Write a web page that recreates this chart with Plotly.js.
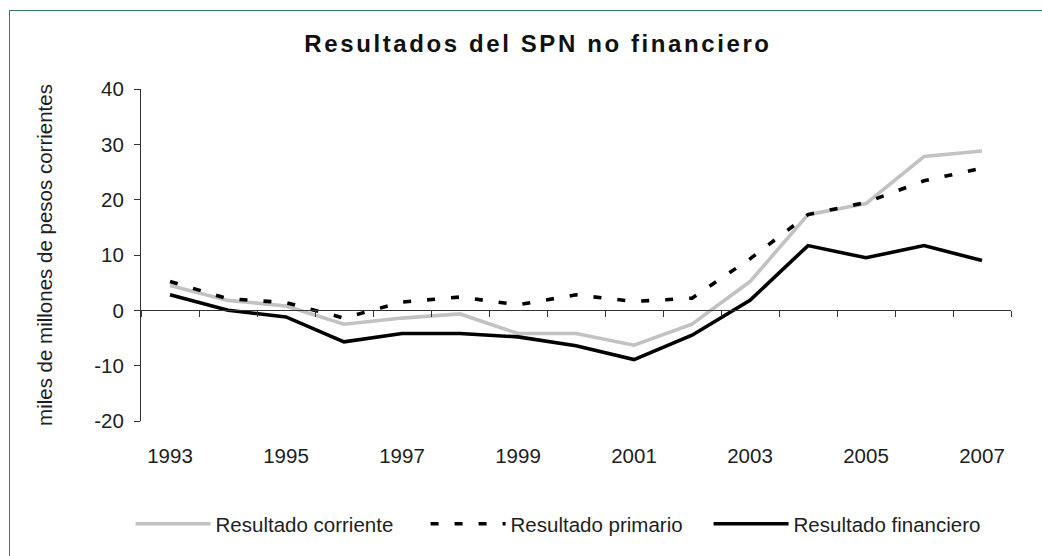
<!DOCTYPE html>
<html>
<head>
<meta charset="utf-8">
<script src="https://cdn.plot.ly/plotly-3.0.1.min.js"></script>
<style>
  html, body { margin: 0; padding: 0; background: #fff; overflow: hidden; }
  #chart { position: absolute; left: 0; top: 0; width: 1042px; height: 556px; }
  #frame { position: absolute; left: 9px; top: 10px; width: 1200px; height: 700px;
           border-left: 1px solid #2f7d63; border-top: 1px solid #2f7d63; pointer-events: none; }
  .gtitle { letter-spacing: 2.6px; }
</style>
</head>
<body>
<div id="chart"></div>
<div id="frame"></div>
<script>
// ---- data ----
const years = [1993, 1994, 1995, 1996, 1997, 1998, 1999, 2000, 2001, 2002, 2003, 2004, 2005, 2006, 2007];
const resultadoCorriente = [4.5, 1.8, 0.8, -2.5, -1.4, -0.65, -4.2, -4.2, -6.3, -2.5, 5.2, 17.3, 19.3, 27.8, 28.8];
const resultadoPrimario = [5.2, 2.1, 1.4, -1.4, 1.5, 2.4, 1.0, 2.8, 1.6, 2.2, 9.3, 17.3, 19.5, 23.4, 25.7];
const resultadoFinanciero = [2.8, 0.0, -1.2, -5.7, -4.2, -4.2, -4.8, -6.4, -8.9, -4.5, 1.8, 11.7, 9.5, 11.7, 9.0];
const seriesNames = ['Resultado corriente', 'Resultado primario', 'Resultado financiero'];
const xTickYears = [1993, 1995, 1997, 1999, 2001, 2003, 2005, 2007];
const yTicks = [-20, -10, 0, 10, 20, 30, 40];
const yTickLabels = ['-20', '-10', '0', '10', '20', '30', '40'];
const chartTitle = 'Resultados del SPN no financiero';
const yTitle = 'miles de millones de pesos corrientes';

// category boundaries for tick marks
const boundaries = years.map(y => y - 0.5).concat([years[years.length - 1] + 0.5]);

const FONT = 'Liberation Sans, Arial, Helvetica, sans-serif';
const TXT = '#1e1e1e';

const traces = [
  { x: years, y: resultadoCorriente, name: seriesNames[0], type: 'scatter', mode: 'lines',
    line: { color: '#c2c2c2', width: 3.6 }, legendwidth: 205 },
  { x: years, y: resultadoPrimario, name: seriesNames[1], type: 'scatter', mode: 'lines',
    line: { color: '#000000', width: 3.6, dash: '8px,16px' }, legendwidth: 193 },
  { x: years, y: resultadoFinanciero, name: seriesNames[2], type: 'scatter', mode: 'lines',
    line: { color: '#000000', width: 3.6 } },
  { x: [], y: [], xaxis: 'x2', showlegend: false, hoverinfo: 'skip', type: 'scatter', mode: 'lines' }
];

const layout = {
  width: 1042, height: 556,
  margin: { l: 141, r: 31, t: 89, b: 127 },
  paper_bgcolor: 'rgba(0,0,0,0)', plot_bgcolor: 'rgba(0,0,0,0)',
  font: { family: FONT, size: 20.5, color: TXT },
  title: { text: '<b>' + chartTitle + '</b>', font: { family: FONT, size: 24, color: '#111' },
           x: 0.5163, xref: 'container', xanchor: 'center', y: 1 - 44 / 556, yref: 'container', yanchor: 'middle' },
  showlegend: true,
  legend: { orientation: 'h', x: -0.012, xanchor: 'left', y: -0.31, yanchor: 'middle',
            itemwidth: 75, font: { family: FONT, size: 20.5, color: TXT }, traceorder: 'normal',
            bgcolor: 'rgba(0,0,0,0)' },
  xaxis: { range: [1992.5, 2007.5], tickmode: 'array', tickvals: xTickYears, ticktext: xTickYears.map(String),
           ticks: '', showline: false, showgrid: false, zeroline: false, ticklabelstandoff: 20,
           tickfont: { family: FONT, size: 20.5, color: TXT }, fixedrange: true },
  xaxis2: { overlaying: 'x', anchor: 'free', position: 1 / 3, range: [1992.5, 2007.5],
            tickmode: 'array', tickvals: boundaries, ticks: 'outside', ticklen: 6, tickcolor: '#333',
            showticklabels: false, showline: true, linecolor: '#333', linewidth: 1,
            showgrid: false, zeroline: false, fixedrange: true },
  yaxis: { range: [-20, 40], tickmode: 'array', tickvals: yTicks, ticktext: yTickLabels,
           ticks: 'outside', ticklen: 6, tickcolor: '#333',
           showline: true, linecolor: '#333', linewidth: 1, showgrid: false, zeroline: false,
           ticklabelstandoff: 6, tickfont: { family: FONT, size: 20.5, color: TXT },
           title: { text: yTitle, font: { family: FONT, size: 20.5, color: TXT }, standoff: 36 }, fixedrange: true }
};

Plotly.newPlot('chart', traces, layout, { displayModeBar: false, staticPlot: true });
</script>
</body>
</html>
